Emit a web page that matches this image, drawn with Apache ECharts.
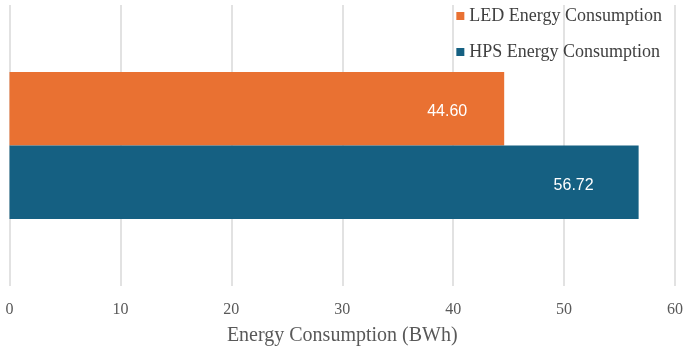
<!DOCTYPE html>
<html>
<head>
<meta charset="utf-8">
<script src="https://cdn.jsdelivr.net/npm/echarts@6/dist/echarts.min.js"></script>
<style>
  html, body { margin: 0; padding: 0; background: #fff; }
  #container { width: 685px; height: 349px; }
</style>
</head>
<body>
<div id="container"></div>
<script>
// chart data
const categories = ['Energy'];
const seriesNames = ['LED Energy Consumption', 'HPS Energy Consumption'];
const ledValues = [44.60];
const hpsValues = [56.72];
const xTicks = [0, 10, 20, 30, 40, 50, 60];

var dom = document.getElementById('container');
var chart = echarts.init(dom);

function barLabel(dist) {
    return {
        show: true,
        position: 'insideRight',
        distance: dist,
        offset: [0, 3],
        color: '#fff',
        fontFamily: 'Liberation Sans, Arial, sans-serif',
        fontSize: 16,
        formatter: function (p) { return p.value.toFixed(2); }
    };
}

var serif = 'Liberation Serif, Times New Roman, serif';

chart.setOption({
    animation: false,
    grid: { left: 9.5, right: 10, top: 5, bottom: 63, containLabel: false, outerBoundsMode: 'none' },
    legend: {
        data: seriesNames,
        orient: 'vertical',
        right: 18,
        top: 2,
        itemWidth: 8,
        itemHeight: 8,
        itemGap: 18,
        icon: 'rect',
        textStyle: { fontFamily: serif, fontSize: 18, color: '#404040' }
    },
    xAxis: {
        type: 'value',
        min: xTicks[0],
        max: xTicks[xTicks.length - 1],
        interval: 10,
        name: 'Energy Consumption (BWh)',
        nameLocation: 'middle',
        nameGap: 40,
        nameTextStyle: { fontFamily: serif, fontSize: 20, color: '#595959' },
        axisLine: { show: false },
        axisTick: { show: false },
        axisLabel: { margin: 16, fontFamily: serif, fontSize: 16, color: '#595959' },
        splitLine: { show: true, lineStyle: { color: '#d9d9d9', width: 1.5 } }
    },
    yAxis: {
        type: 'category',
        data: categories,
        axisLine: { show: false },
        axisTick: { show: false },
        axisLabel: { show: false }
    },
    series: [
        {
            name: seriesNames[0],
            type: 'bar',
            data: ledValues,
            barGap: '0%',
            barCategoryGap: '47.7%',
            itemStyle: { color: '#E97132' },
            label: barLabel(37)
        },
        {
            name: seriesNames[1],
            type: 'bar',
            data: hpsValues,
            barGap: '0%',
            barCategoryGap: '47.7%',
            itemStyle: { color: '#156082' },
            label: barLabel(45)
        }
    ]
});
</script>
</body>
</html>
